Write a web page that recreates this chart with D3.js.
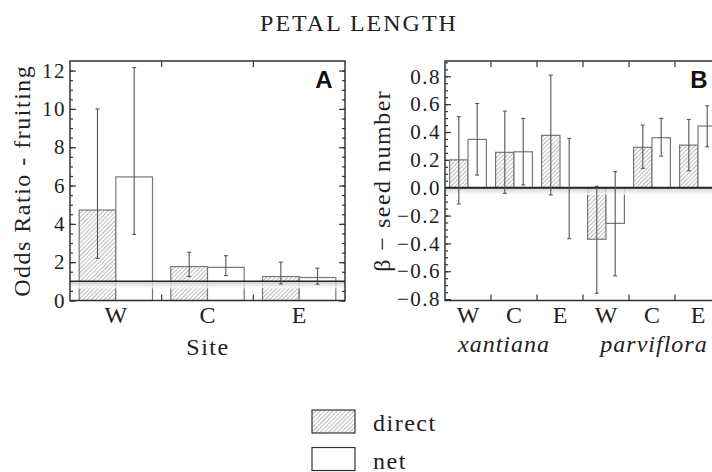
<!DOCTYPE html>
<meta charset="utf-8">
<style>
    body { margin: 0; background: #fff; }
    svg { display: block; font-family: "Liberation Serif", "Times New Roman", serif; }
    .frame { fill: none; stroke: #333; stroke-width: 1.5px; }
    .axis path { display: none; }
    .axis line { stroke: #333; stroke-width: 1.2px; }
    .axis text { font-family: "Liberation Serif", serif; font-size: 21px; letter-spacing: 1.5px; fill: #222; }
    .bar { stroke: #777; stroke-width: 1.2px; }
    .err { stroke: #555; stroke-width: 1.1px; fill: none; }
    .lbl { font-size: 24px; letter-spacing: 1.5px; fill: #222; }
    .panel { font-family: "Liberation Sans", Arial, sans-serif; font-weight: bold; font-size: 24px; fill: #111; }
</style>
<script src="https://cdn.jsdelivr.net/npm/d3@7"></script>
<svg width="712" height="472"></svg>
<script>
    // panel A - odds ratio, fruiting
    var sitesA = ["W", "C", "E"];
    var directA = [4.72, 1.77, 1.25];
    var directA_lo = [2.2, 1.25, 0.86];
    var directA_hi = [10.0, 2.52, 2.0];
    var netA = [6.45, 1.73, 1.2];
    var netA_lo = [3.45, 1.3, 0.85];
    var netA_hi = [12.16, 2.34, 1.69];
    var ticksA = [0, 2, 4, 6, 8, 10, 12];

    // panel B - beta, seed number
    var groupsB = ["xantiana", "parviflora"];
    var sitesB = ["W", "C", "E", "W", "C", "E"];
    var directB = [0.2, 0.254, 0.376, -0.37, 0.29, 0.306];
    var directB_lo = [-0.117, -0.04, -0.052, -0.758, 0.139, 0.122];
    var directB_hi = [0.51, 0.55, 0.808, 0.01, 0.45, 0.49];
    var netB = [0.347, 0.258, 0.0, -0.256, 0.359, 0.443];
    var netB_lo = [0.091, 0.02, -0.366, -0.633, 0.227, 0.294];
    var netB_hi = [0.605, 0.498, 0.354, 0.115, 0.498, 0.588];
    var ticksB = [-0.8, -0.6, -0.4, -0.2, 0.0, 0.2, 0.4, 0.6, 0.8];

    var svg = d3.select("svg");
    var defs = svg.append("defs");

    var pat = defs.append("pattern")
        .attr("id", "hatch")
        .attr("patternUnits", "userSpaceOnUse")
        .attr("width", 3).attr("height", 3)
        .attr("patternTransform", "rotate(45)");
    pat.append("rect").attr("width", 3).attr("height", 3).attr("fill", "#fff");
    pat.append("line").attr("x1", 0).attr("y1", 0).attr("x2", 0).attr("y2", 3)
        .attr("stroke", "#777").attr("stroke-width", 1);

    var grad = defs.append("linearGradient")
        .attr("id", "shadow").attr("x1", 0).attr("y1", 0).attr("x2", 0).attr("y2", 1);
    grad.append("stop").attr("offset", "0%").attr("stop-color", "#c4c4c4");
    grad.append("stop").attr("offset", "100%").attr("stop-color", "#fff");

    var yTop = 61, yBottom = 300.5;

    svg.append("text").attr("class", "lbl")
        .attr("x", 359).attr("y", 31)
        .attr("text-anchor", "middle")
        .style("letter-spacing", "2px")
        .text("PETAL LENGTH");

    function panel(o) {
        var g = svg.append("g");
        var x = d3.scaleBand().domain(d3.range(o.cats.length))
            .range([o.left, o.right]).paddingInner(0.2).paddingOuter(0.1);
        var sub = d3.scaleBand().domain(["direct", "net"]).range([0, x.bandwidth()]);
        var y = d3.scaleLinear().domain(o.domain).range([yBottom, yTop]);

        // minor + major ticks, both sides, inward
        g.append("g").attr("class", "axis").attr("transform", "translate(" + o.left + ",0)")
            .call(d3.axisLeft(y).tickValues(o.minor).tickSize(-3).tickFormat(""));
        g.append("g").attr("class", "axis").attr("transform", "translate(" + o.left + ",0)")
            .call(d3.axisLeft(y).tickValues(o.ticks).tickSize(-6).tickPadding(4).tickFormat(o.fmt));
        g.append("g").attr("class", "axis").attr("transform", "translate(" + o.right + ",0)")
            .call(d3.axisRight(y).tickValues(o.minor).tickSize(-3).tickFormat(""));
        g.append("g").attr("class", "axis").attr("transform", "translate(" + o.right + ",0)")
            .call(d3.axisRight(y).tickValues(o.ticks).tickSize(-6).tickFormat(""));

        // category separators on top and bottom
        var seps = d3.range(1, o.cats.length).map(function (i) { return o.left + i * x.step(); });
        g.selectAll(".sepb").data(seps).enter().append("line")
            .attr("x1", function (d) { return d; }).attr("x2", function (d) { return d; })
            .attr("y1", yBottom).attr("y2", yBottom - 6)
            .attr("stroke", "#333").attr("stroke-width", 1.2);
        g.selectAll(".sept").data(seps).enter().append("line")
            .attr("x1", function (d) { return d; }).attr("x2", function (d) { return d; })
            .attr("y1", yTop).attr("y2", yTop + 6)
            .attr("stroke", "#333").attr("stroke-width", 1.2);

        var rows = [];
        o.cats.forEach(function (c, i) {
            rows.push({ i: i, k: "direct", v: o.direct[i], lo: o.direct_lo[i], hi: o.direct_hi[i] });
            rows.push({ i: i, k: "net", v: o.net[i], lo: o.net_lo[i], hi: o.net_hi[i] });
        });

        g.selectAll(".bar").data(rows).enter().append("rect")
            .attr("class", "bar")
            .attr("x", function (d) { return x(d.i) + sub(d.k); })
            .attr("width", sub.bandwidth())
            .attr("y", function (d) { return y(Math.max(d.v, o.base)); })
            .attr("height", function (d) { return Math.abs(y(d.v) - y(o.base)); })
            .attr("fill", function (d) { return d.k == "direct" ? "url(#hatch)" : "#fff"; });

        // reference line + soft shadow
        g.append("rect")
            .attr("x", o.left).attr("width", o.right - o.left)
            .attr("y", y(o.ref)).attr("height", 7)
            .attr("fill", "url(#shadow)").attr("opacity", 0.8);
        g.append("line")
            .attr("x1", o.left).attr("x2", o.right)
            .attr("y1", y(o.ref)).attr("y2", y(o.ref))
            .attr("stroke", "#222").attr("stroke-width", o.refWidth);

        var eb = g.selectAll(".eb").data(rows).enter().append("g")
            .attr("transform", function (d) { return "translate(" + (x(d.i) + sub(d.k) + sub.bandwidth() / 2) + ",0)"; });
        eb.append("line").attr("class", "err")
            .attr("y1", function (d) { return y(d.lo); }).attr("y2", function (d) { return y(d.hi); });
        eb.append("line").attr("class", "err").attr("x1", -2).attr("x2", 2)
            .attr("y1", function (d) { return y(d.lo); }).attr("y2", function (d) { return y(d.lo); });
        eb.append("line").attr("class", "err").attr("x1", -2).attr("x2", 2)
            .attr("y1", function (d) { return y(d.hi); }).attr("y2", function (d) { return y(d.hi); });

        g.append("rect").attr("class", "frame")
            .attr("x", o.left).attr("y", yTop)
            .attr("width", o.right - o.left).attr("height", yBottom - yTop);

        g.selectAll(".cat").data(o.cats).enter().append("text")
            .attr("class", "lbl")
            .attr("x", function (d, i) { return x(i) + x.bandwidth() / 2; })
            .attr("y", 323)
            .attr("text-anchor", "middle")
            .style("letter-spacing", "0px")
            .text(function (d) { return d; });

        g.append("text").attr("class", "lbl")
            .attr("transform", "translate(" + o.titleX + "," + ((yTop + yBottom) / 2) + ") rotate(-90)")
            .attr("text-anchor", "middle")
            .text(o.title);

        g.append("text").attr("class", "panel")
            .attr("x", o.tagX).attr("y", 88)
            .attr("text-anchor", "middle")
            .text(o.tag);

        return { x: x, y: y, g: g };
    }

    panel({
        cats: sitesA, left: 70, right: 345, domain: [0, 12.5],
        ticks: ticksA, minor: d3.range(0, 12.5, 0.5), fmt: d3.format("d"),
        direct: directA, direct_lo: directA_lo, direct_hi: directA_hi,
        net: netA, net_lo: netA_lo, net_hi: netA_hi,
        base: 0, ref: 1, refWidth: 1.5,
        title: "Odds Ratio - fruiting", titleX: 30, tag: "A", tagX: 324
    });

    var pB = panel({
        cats: sitesB, left: 445, right: 721, domain: [-0.81, 0.91],
        ticks: ticksB, minor: d3.range(-0.8, 0.91, 0.05), fmt: d3.format(".1f"),
        direct: directB, direct_lo: directB_lo, direct_hi: directB_hi,
        net: netB, net_lo: netB_lo, net_hi: netB_hi,
        base: 0, ref: 0, refWidth: 2,
        title: "\u03b2 \u2212 seed number", titleX: 390, tag: "B", tagX: 699
    });

    svg.append("text").attr("class", "lbl")
        .attr("x", 208).attr("y", 355)
        .attr("text-anchor", "middle")
        .text("Site");

    var xB = pB.x;
    svg.selectAll(".grp").data(groupsB).enter().append("text")
        .attr("class", "lbl")
        .attr("x", function (d, i) { return xB(i * 3 + 1) + xB.bandwidth() / 2 - 10 * (1 - i) + 2 * i; })
        .attr("y", 352)
        .attr("text-anchor", "middle")
        .style("font-style", "italic")
        .style("letter-spacing", "1px")
        .text(function (d) { return d; });

    // legend
    var legend = [["direct", "url(#hatch)"], ["net", "#fff"]];
    var lg = svg.selectAll(".leg").data(legend).enter().append("g")
        .attr("transform", function (d, i) { return "translate(312," + (410 + i * 37.5) + ")"; });
    lg.append("rect").attr("width", 43).attr("height", 23)
        .attr("fill", function (d) { return d[1]; })
        .attr("stroke", "#333").attr("stroke-width", 1.2);
    lg.append("text").attr("class", "lbl")
        .attr("x", 61).attr("y", 21)
        .text(function (d) { return d[0]; });
</script>
